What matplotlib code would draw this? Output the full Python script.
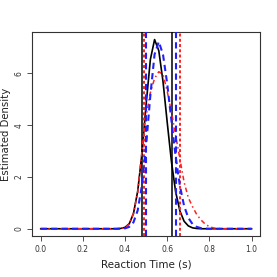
import matplotlib
matplotlib.use("Agg")
import matplotlib.pyplot as plt

# density curves (x in seconds, y = estimated density)
black_x = [0.0, 0.36, 0.38, 0.40, 0.42, 0.44, 0.46, 0.48, 0.50, 0.52, 0.54,
           0.56, 0.58, 0.60, 0.62, 0.64, 0.66, 0.68, 0.70, 0.72, 0.74, 0.76, 1.0]
black_y = [0.0, 0.0, 0.012, 0.054, 0.195, 0.59, 1.45, 2.89, 4.81, 6.53, 7.30,
           6.87, 5.68, 4.10, 2.59, 1.42, 0.69, 0.29, 0.11, 0.035, 0.01, 0.0, 0.0]

blue_x = [0.0, 0.36, 0.38, 0.40, 0.42, 0.44, 0.46, 0.48, 0.50, 0.52, 0.54, 0.56,
          0.58, 0.60, 0.62, 0.64, 0.66, 0.68, 0.70, 0.72, 0.74, 0.76, 0.78, 0.80, 1.0]
blue_y = [0.0, 0.0, 0.003, 0.016, 0.072, 0.25, 0.71, 1.67, 3.23, 5.15, 6.73, 7.22,
          6.72, 5.59, 4.17, 2.78, 1.66, 0.88, 0.42, 0.18, 0.07, 0.024, 0.007, 0.0, 0.0]

red_x = [0.0, 0.36, 0.38, 0.40, 0.42, 0.44, 0.46, 0.48, 0.49, 0.50, 0.52, 0.54, 0.56,
         0.58, 0.60, 0.62, 0.64, 0.66, 0.68, 0.70, 0.72, 0.74, 0.76, 0.78, 0.80,
         0.82, 0.84, 0.86, 1.0]
red_y = [0.0, 0.0, 0.012, 0.05, 0.17, 0.6, 1.4, 3.0, 3.75, 4.35, 5.25, 5.8, 6.06,
         5.95, 5.3, 4.5, 3.6, 2.7, 1.8, 1.2, 0.85, 0.55, 0.34, 0.18, 0.08,
         0.03, 0.01, 0.0, 0.0]

# interval bounds (vertical lines)
black_bounds = [0.482, 0.624]
blue_bounds = [0.501, 0.642]
red_bounds = [0.488, 0.660]

x_ticks = [0.0, 0.2, 0.4, 0.6, 0.8, 1.0]
x_tick_labels = ["0.0", "0.2", "0.4", "0.6", "0.8", "1.0"]
y_ticks = [0, 2, 4, 6]

fig = plt.figure(figsize=(2.77, 2.77), dpi=100)
ax = fig.add_axes([0.1166, 0.148, 0.822, 0.7354])

ax.plot(black_x, black_y, color="black", lw=1.2, zorder=3)
ax.plot(red_x, red_y, color="#ff2020", lw=1.1, linestyle=(0, (3, 2, 1, 2)), zorder=4)
ax.plot(blue_x, blue_y, color="#2020ff", lw=1.5, linestyle=(0, (3, 2)), zorder=5)

for b in black_bounds:
    ax.axvline(b, color="black", lw=1.1, zorder=3)
for b in red_bounds:
    ax.axvline(b, color="#ff2020", lw=1.4, linestyle=(0, (1.5, 1.2)), zorder=4)
for b in blue_bounds:
    ax.axvline(b, color="#2020ff", lw=1.5, linestyle=(0, (3, 2)), zorder=5)

ax.set_xlim(-0.04, 1.04)
ax.set_ylim(-0.28, 7.58)
ax.set_xticks(x_ticks)
ax.set_xticklabels(x_tick_labels)
ax.set_yticks(y_ticks)
ax.set_yticklabels([str(v) for v in y_ticks], rotation=90, va="center")
ax.tick_params(labelsize=5.5, length=3.5, width=0.6, colors="#333333", pad=3)

for s in ax.spines.values():
    s.set_linewidth(0.8)
    s.set_color("#333333")

ax.set_xlabel("Reaction Time (s)", fontsize=7.5, color="#222222", labelpad=4)
ax.set_ylabel("Estimated Density", fontsize=7.3, color="#222222", labelpad=2)

fig.savefig("out.png", dpi=100)
